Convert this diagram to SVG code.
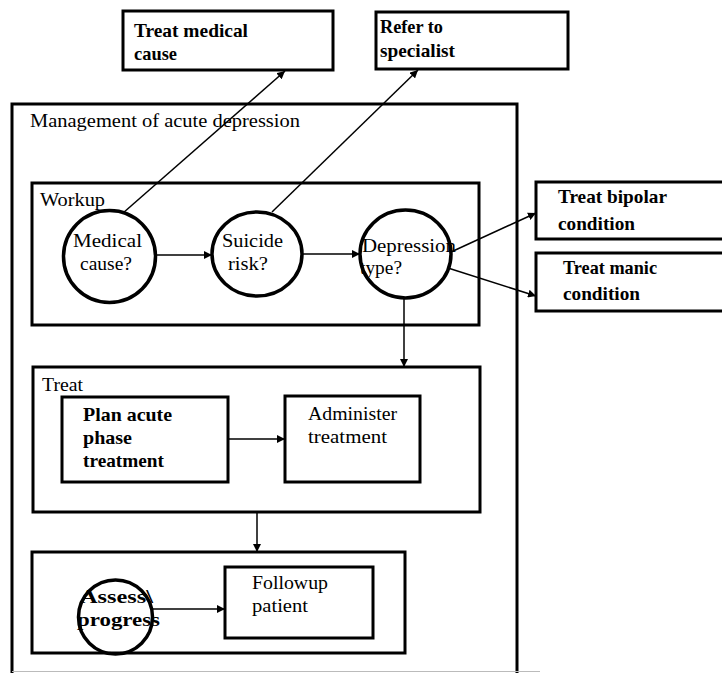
<svg xmlns="http://www.w3.org/2000/svg" width="722" height="673" viewBox="0 0 722 673">
  <style>
    .box { fill: none; stroke: #000; stroke-width: 3; }
    .node { fill: none; stroke: #000; stroke-width: 3.5; }
    .link { fill: none; stroke: #000; stroke-width: 1.5; }
    text { font-family: "Liberation Serif", "Times New Roman", serif; font-size: 19px; fill: #000; }
    .b { font-weight: bold; }
  </style>
  <defs>
    <marker id="arrow" markerUnits="userSpaceOnUse" markerWidth="9" markerHeight="8" refX="8" refY="4" orient="auto">
      <path d="M0,0 L8,4 L0,8 Z" fill="#000"/>
    </marker>
  </defs>
  <rect width="722" height="673" fill="#fff"/>

  <!-- outer container -->
  <g id="management">
    <rect class="box" x="12" y="104" width="505" height="590"/>
    <text x="30" y="127" font-size="20" textLength="270" lengthAdjust="spacingAndGlyphs">Management of acute depression</text>
  </g>

  <!-- targets outside the container -->
  <g id="treat-medical-cause">
    <rect class="box" x="123" y="11" width="210" height="59"/>
    <text class="b" x="134" y="37" textLength="114" lengthAdjust="spacingAndGlyphs">Treat medical</text>
    <text class="b" x="134" y="60" textLength="43" lengthAdjust="spacingAndGlyphs">cause</text>
  </g>
  <g id="refer-specialist">
    <rect class="box" x="376" y="12" width="192" height="57"/>
    <text class="b" x="380" y="33" textLength="63" lengthAdjust="spacingAndGlyphs">Refer to</text>
    <text class="b" x="380" y="57" textLength="75" lengthAdjust="spacingAndGlyphs">specialist</text>
  </g>
  <g id="treat-bipolar">
    <rect class="box" x="536" y="182" width="192" height="57"/>
    <text class="b" x="558" y="203" textLength="109" lengthAdjust="spacingAndGlyphs">Treat bipolar</text>
    <text class="b" x="558" y="230" textLength="77" lengthAdjust="spacingAndGlyphs">condition</text>
  </g>
  <g id="treat-manic">
    <rect class="box" x="536" y="253" width="192" height="58"/>
    <text class="b" x="563" y="274" textLength="94" lengthAdjust="spacingAndGlyphs">Treat manic</text>
    <text class="b" x="563" y="300" textLength="77" lengthAdjust="spacingAndGlyphs">condition</text>
  </g>

  <!-- workup stage -->
  <g id="workup">
    <rect class="box" x="32" y="183" width="447" height="142"/>
    <text x="40" y="206" textLength="65" lengthAdjust="spacingAndGlyphs">Workup</text>
  </g>
  <g id="medical-cause">
    <text x="73" y="247" textLength="69" lengthAdjust="spacingAndGlyphs">Medical</text>
    <text x="80" y="270" textLength="52" lengthAdjust="spacingAndGlyphs">cause?</text>
    <circle class="node" cx="109.5" cy="256.5" r="46"/>
  </g>
  <g id="suicide-risk">
    <text x="222" y="247" textLength="61" lengthAdjust="spacingAndGlyphs">Suicide</text>
    <text x="228" y="270" textLength="40" lengthAdjust="spacingAndGlyphs">risk?</text>
    <ellipse class="node" cx="257" cy="254" rx="45" ry="42"/>
  </g>
  <g id="depression-type">
    <text x="362" y="252" textLength="94" lengthAdjust="spacingAndGlyphs">Depression</text>
    <text x="360" y="274" textLength="42" lengthAdjust="spacingAndGlyphs">type?</text>
    <ellipse class="node" cx="405.5" cy="254" rx="45.5" ry="44"/>
  </g>

  <!-- treatment stage -->
  <g id="treat">
    <rect class="box" x="33" y="367" width="447" height="145"/>
    <text x="42" y="391" textLength="41" lengthAdjust="spacingAndGlyphs">Treat</text>
  </g>
  <g id="plan-acute">
    <rect class="box" x="62" y="397" width="166" height="85"/>
    <text class="b" x="83" y="421" textLength="89" lengthAdjust="spacingAndGlyphs">Plan acute</text>
    <text class="b" x="83" y="444" textLength="49" lengthAdjust="spacingAndGlyphs">phase</text>
    <text class="b" x="83" y="467" textLength="81" lengthAdjust="spacingAndGlyphs">treatment</text>
  </g>
  <g id="administer">
    <rect class="box" x="285" y="396" width="135" height="86"/>
    <text x="308" y="420" textLength="89" lengthAdjust="spacingAndGlyphs">Administer</text>
    <text x="308" y="443" textLength="79" lengthAdjust="spacingAndGlyphs">treatment</text>
  </g>

  <!-- follow-up stage -->
  <g id="followup-stage">
    <rect class="box" x="32" y="552" width="373" height="101"/>
  </g>
  <g id="assess-progress">
    <text class="b" x="80" y="603" textLength="73" lengthAdjust="spacingAndGlyphs">Assess\</text>
    <text class="b" x="77" y="626" textLength="83" lengthAdjust="spacingAndGlyphs">progress</text>
    <circle class="node" cx="115.5" cy="617" r="37"/>
  </g>
  <g id="followup-patient">
    <rect class="box" x="225" y="567" width="148" height="71"/>
    <text x="252" y="589" textLength="76" lengthAdjust="spacingAndGlyphs">Followup</text>
    <text x="252" y="612" textLength="56" lengthAdjust="spacingAndGlyphs">patient</text>
  </g>

  <!-- connectors -->
  <g id="connectors">
    <line class="link" x1="123" y1="213" x2="285" y2="71" marker-end="url(#arrow)"/>
    <line class="link" x1="272" y1="212" x2="418" y2="70" marker-end="url(#arrow)"/>
    <line class="link" x1="156" y1="255" x2="212" y2="255" marker-end="url(#arrow)"/>
    <line class="link" x1="302" y1="254" x2="360" y2="254" marker-end="url(#arrow)"/>
    <line class="link" x1="451" y1="252" x2="536" y2="213" marker-end="url(#arrow)"/>
    <line class="link" x1="448" y1="268" x2="536" y2="296" marker-end="url(#arrow)"/>
    <line class="link" x1="404" y1="298" x2="404" y2="367" marker-end="url(#arrow)"/>
    <line class="link" x1="228" y1="439" x2="285" y2="439" marker-end="url(#arrow)"/>
    <line class="link" x1="257" y1="512" x2="257" y2="552" marker-end="url(#arrow)"/>
    <line class="link" x1="153" y1="609" x2="225" y2="609" marker-end="url(#arrow)"/>
  </g>

  <!-- page edge -->
  <line x1="12" y1="671.5" x2="540" y2="671.5" stroke="#bbb" stroke-width="1"/>
</svg>
